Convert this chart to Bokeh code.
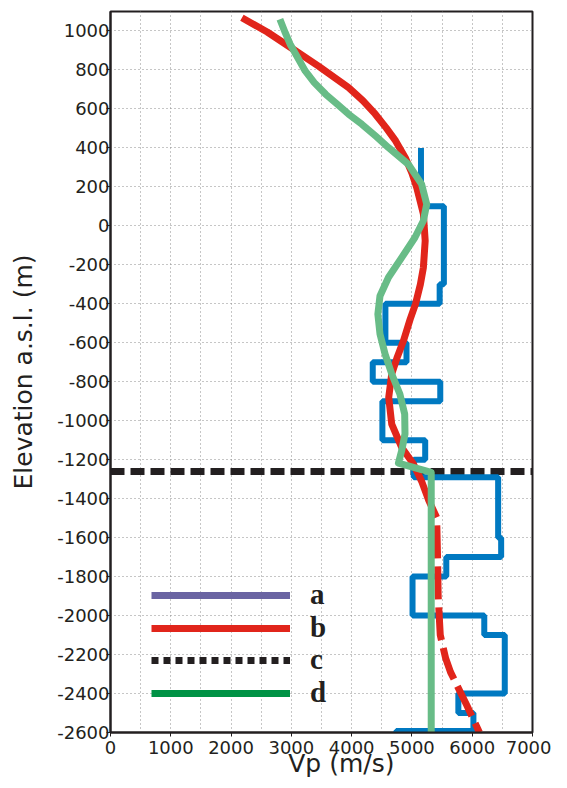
import numpy as np
from bokeh.plotting import figure
from bokeh.models import (Range1d, FixedTicker, SingleIntervalTicker, Span,
                          Legend, LegendItem)
from bokeh.embed import file_html
from bokeh.resources import INLINE

# ---------------- data ----------------
# blue step profile: layers (top elevation, base elevation, velocity)
layer_top = [400, 100, -300, -400, -600, -700, -800, -900, -1100, -1200,
             -1290, -1600, -1700, -1800, -2000, -2100, -2400, -2500, -2592]
layer_base = [100, -300, -400, -600, -700, -800, -900, -1100, -1200, -1290,
              -1600, -1700, -1800, -2000, -2100, -2400, -2500, -2592, -2650]
layer_vp = [5150, 5530, 5460, 4560, 4910, 4350, 5470, 4510, 5220, 5030,
            6430, 6480, 5570, 5010, 6200, 6540, 5770, 6020, 4740]

# red curve (b): solid part and extrapolated (dashed) part
red_vp = [2180, 2600, 2950, 3450, 3950, 4190, 4390, 4570, 4730, 4890, 5000,
          5080, 5190, 5220, 5190, 5140, 5060, 4970, 4860, 4750, 4665, 4615,
          4665, 4830, 5020, 5160, 5280, 5410]
red_z = [1068, 995, 923, 820, 709, 641, 574, 504, 436, 350, 270,
         196, 61, -77, -214, -300, -400, -480, -590, -680, -760, -880,
         -1017, -1137, -1220, -1310, -1410, -1496]
red_dash_vp = [5410, 5425, 5435, 5470, 5560, 5640, 5910, 6120]
red_dash_z = [-1496, -1700, -1900, -2100, -2220, -2290, -2460, -2600]

# green curve
green_vp = [2810, 2900, 2980, 3230, 3380, 3570, 3760, 3950, 4170, 4400, 4610,
            4940, 5160, 5245, 5190, 5050, 4830, 4610, 4470, 4435, 4470, 4555,
            4665, 4800, 4880, 4885, 4830, 4776, 5320, 5320]
green_z = [1060, 990, 932, 795, 735, 675, 625, 573, 521, 460, 402,
           316, 214, 111, 26, -60, -163, -265, -360, -453, -555, -658,
           -760, -863, -966, -1068, -1154, -1218, -1265, -2600]

# horizontal boundary (c)
c_elevation = -1260

x_ticks = [0, 1000, 2000, 3000, 4000, 5000, 6000, 7000]
y_ticks = list(range(-2600, 1001, 200))
legend_labels = ["a", "b", "c", "d"]

# ---------------- styles ----------------
DARK = "#231f20"
BLUE = "#0079c1"
RED = "#e1251b"
GREEN = "#68bc87"
LEG_PURPLE = "#6a64a2"
LEG_GREEN = "#009245"

p = figure(width=551, height=780, output_backend="svg", toolbar_location=None,
           x_range=Range1d(0, 7000), y_range=Range1d(-2600, 1100),
           min_border_left=110, min_border_right=19, min_border_top=11,
           min_border_bottom=48)
p.background_fill_color = "white"
p.outline_line_color = DARK
p.outline_line_width = 2

p.xaxis.ticker = FixedTicker(ticks=x_ticks)
p.yaxis.ticker = FixedTicker(ticks=y_ticks)
p.yaxis.major_label_overrides = {v: str(v) for v in y_ticks}
p.xgrid.ticker = SingleIntervalTicker(interval=500)
p.ygrid.ticker = FixedTicker(ticks=y_ticks)
for g in (p.xgrid, p.ygrid):
    g.grid_line_color = "#8c8c8c"
    g.grid_line_dash = "1 3"
    g.grid_line_width = 1

for ax in (p.xaxis, p.yaxis):
    ax.axis_line_color = DARK
    ax.axis_line_width = 2
    ax.major_tick_line_color = DARK
    ax.major_tick_line_width = 1
    ax.major_tick_in = 0
    ax.major_tick_out = 4
    ax.minor_tick_line_color = None
    ax.major_label_text_font = "DejaVu Sans"
    ax.major_label_text_font_size = "18px"
    ax.major_label_text_color = DARK
    ax.axis_label_text_font = "DejaVu Sans"
    ax.axis_label_text_font_size = "25px"
    ax.axis_label_text_font_style = "normal"
    ax.axis_label_text_color = DARK

# the x label sits a little right of the frame centre in the original
p.xaxis.axis_label = "\u00a0" * 5 + "Vp (m/s)"
p.yaxis.axis_label = "Elevation a.s.l. (m)"
p.xaxis.major_label_standoff = 4
p.xaxis.axis_label_standoff = -8
p.yaxis.major_label_standoff = -3
p.yaxis.axis_label_standoff = 16

# boundary c
span = Span(location=c_elevation, dimension="width", line_color=DARK,
            line_width=7, line_dash="14 6", level="underlay")
p.add_layout(span)

# blue step profile
step_x = np.repeat(layer_vp, 2)
step_y = np.column_stack([layer_top, layer_base]).ravel()
p.line(step_x, step_y, line_color=BLUE, line_width=6)

# red curve
p.line(red_vp, red_z, line_color=RED, line_width=7, line_join="round")
p.line(red_dash_vp, red_dash_z, line_color=RED, line_width=7,
       line_dash="33 8", line_dash_offset=33)

# green curve
p.line(green_vp, green_z, line_color=GREEN, line_width=7, line_join="round")

# legend glyphs (renderers without visible data)
nan = [float("nan")]
ra = p.line(nan, nan, line_color=LEG_PURPLE, line_width=7)
rb = p.line(nan, nan, line_color=RED, line_width=7)
rc = p.line(nan, nan, line_color=DARK, line_width=7, line_dash="7 5")
rd = p.line(nan, nan, line_color=LEG_GREEN, line_width=7)

# one legend box per entry so each row can be placed exactly
legend_offsets = [121, 88, 56, 23]   # px above the frame bottom
for lab, r, off in zip(legend_labels, [ra, rb, rc, rd], legend_offsets):
    lg = Legend(items=[LegendItem(label=lab, renderers=[r])],
                location=(41, off), glyph_width=139, glyph_height=20,
                label_standoff=20, label_text_font="Liberation Serif",
                label_text_font_style="bold", label_text_font_size="29px",
                label_text_color=DARK, padding=0, margin=0,
                border_line_color=None, background_fill_alpha=0)
    p.add_layout(lg)

open("out.html", "w").write(file_html(p, INLINE))
